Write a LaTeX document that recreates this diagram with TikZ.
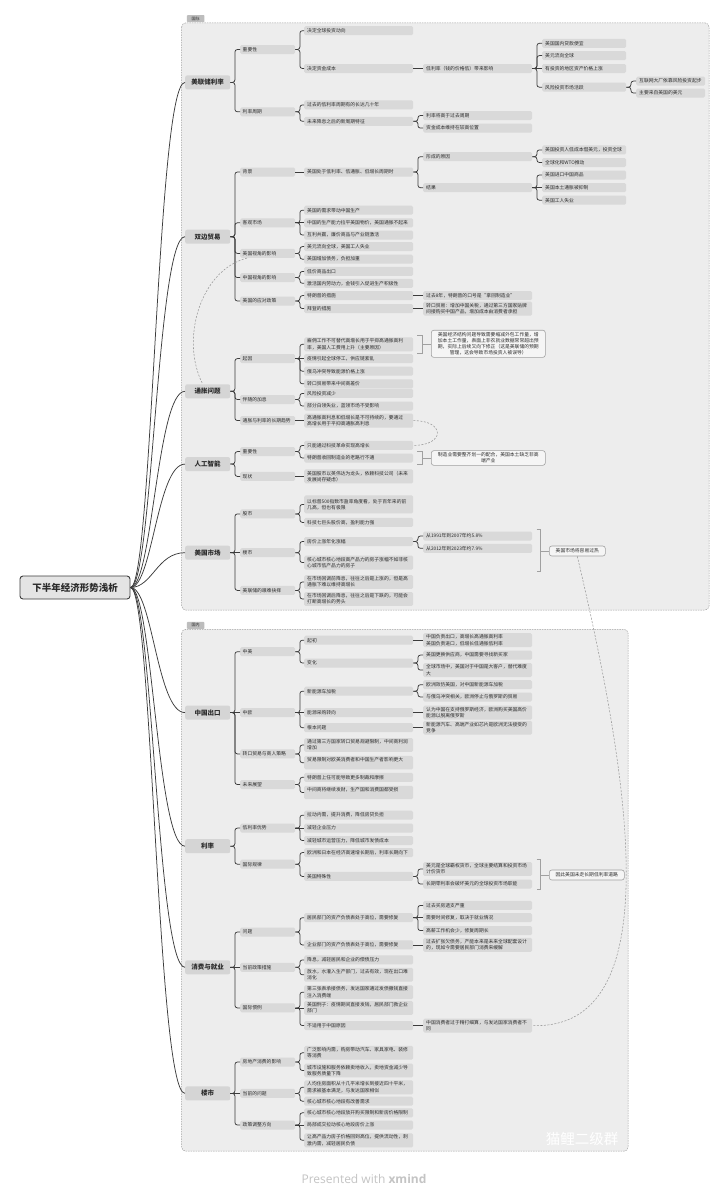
\documentclass[tikz,border=0pt]{standalone}
\usepackage{fontspec}
\setmainfont{Noto Sans CJK SC}
\newfontfamily\xmfont{Open Sans}
\usetikzlibrary{calc}
\definecolor{boxbg}{HTML}{EDEDED}
\definecolor{boxline}{HTML}{A0A0A0}
\definecolor{nfill}{HTML}{D9D9D9}
\definecolor{lfill}{HTML}{D5D5D5}
\definecolor{linec}{HTML}{3C3C3C}
\definecolor{txt}{HTML}{2B2B2B}
\definecolor{tabfill}{HTML}{BDBDBD}
\definecolor{callfill}{HTML}{F5F5F5}
\definecolor{relc}{HTML}{9A9A9A}
\definecolor{presc}{HTML}{C4C4C4}
\newcommand\mmel[2]{\draw[conn] (#1.east) -- ++(4.5,0) |- (#2.west);}
\newcommand\mmst[2]{\draw[conn] (#1.east) -- (#2.west);}
\begin{document}
\begin{tikzpicture}[x=1pt,y=-1pt,
  nbase/.style={fill=nfill, rounded corners=1.5pt, text=txt, anchor=west, align=left,
    inner ysep=1.6pt, minimum height=9pt, font=\fontsize{4.8}{6.2}\selectfont},
  lone/.style={fill=lfill, rounded corners=2pt, text=txt, anchor=west, inner sep=0pt,
    minimum width=45pt, minimum height=14pt, font=\bfseries\fontsize{6.5}{7.5}\selectfont},
  ltwo/.style={nbase, text width=50pt, inner xsep=2.5pt},
  lthr/.style={nbase, text width=103pt, inner xsep=3pt},
  lfiv/.style={nbase, text width=78pt, inner xsep=3pt},
  lsix/.style={nbase, text width=63pt, inner xsep=3pt},
  cbox/.style={fill=callfill, draw=boxline, line width=0.6pt, rounded corners=2.5pt, text=txt,
    anchor=west, align=center, inner xsep=3pt, inner ysep=2pt, font=\fontsize{4.8}{6.2}\selectfont},
  conn/.style={draw=linec, line width=0.75pt, rounded corners=2.5pt},
  brk/.style={draw=boxline, line width=0.6pt},
  relline/.style={draw=relc, dashed, dash pattern=on 2pt off 1.5pt, line width=0.55pt},
  boxst/.style={fill=boxbg, draw=boxline, dashed, dash pattern=on 1.5pt off 1pt, line width=0.5pt, rounded corners=4pt},
  tabst/.style={fill=tabfill, text=txt, inner sep=0pt, minimum width=17.5pt, minimum height=7pt,
    rounded corners=0.8pt, font=\fontsize{4}{4.5}\selectfont},
  rootst/.style={fill=nfill!70, draw=linec, line width=0.9pt, rounded corners=3pt, text=txt,
    minimum width=110pt, minimum height=23pt, font=\bfseries\fontsize{9.5}{11}\selectfont}
]
\useasboundingbox[fill=white] (0,0) rectangle (728,1200);

% group boxes
\draw[boxst] (181.7,22.9) rectangle (709,610);
\draw[boxst] (181.7,629.3) rectangle (628,1151.2);
\node[tabst] (tabA) at (195.7,18.6) {国际};
\node[tabst] (tabB) at (195.7,625.4) {国内};

% root
\node[rootst] (R) at (75,587.5) {下半年经济形势浅析};

% ---------- 美联储利率
\node[lone] (A) at (185,82.4) {美联储利率};
\node[ltwo] (A1) at (240,49.5) {重要性};
\node[lthr] (A11) at (304,30.7) {决定全球投资动向};
\node[lthr] (A12) at (304,68.5) {决定资金成本};
\node[lthr] (A121) at (423,68.5) {低利率（钱的价格低）带来影响};
\node[lfiv] (A1211) at (542,43.3) {美国国内贷款便宜};
\node[lfiv] (A1212) at (542,55.6) {美元流向全球};
\node[lfiv] (A1213) at (542,68.5) {有投资的地区资产价格上涨};
\node[lfiv] (A1214) at (542,87.2) {风险投资市场活跃};
\node[lsix] (A12141) at (636,81.1) {互联网大厂依靠风险投资起步};
\node[lsix] (A12142) at (636,93) {主要来自美国的美元};
\node[ltwo] (A2) at (240,111.8) {利率周期};
\node[lthr] (A21) at (304,104.9) {过去的低利率周期有的长达几十年};
\node[lthr] (A22) at (304,121.3) {未来降息之后的新周期特征};
\node[lthr] (A221) at (423,115.5) {利率将高于过去周期};
\node[lthr] (A222) at (423,128.1) {资金成本维持在较高位置};

% ---------- 双边贸易
\node[lone] (B) at (185,236.7) {双边贸易};
\node[ltwo] (B1) at (240,172) {背景};
\node[lthr] (B11) at (304,172) {美国处于低利率、低通胀、低增长周期时};
\node[lthr] (B111) at (423,156.7) {形成的原因};
\node[lfiv] (B1111) at (542,149.9) {美国投资人低成本借美元，投资全球};
\node[lfiv] (B1112) at (542,162.5) {全球化和WTO推动};
\node[lthr] (B112) at (423,187.7) {结果};
\node[lfiv] (B1121) at (542,175) {美国进口中国商品};
\node[lfiv] (B1122) at (542,187.7) {美国本土通胀被抑制};
\node[lfiv] (B1123) at (542,200.2) {美国工人失业};
\node[ltwo] (B2) at (240,222.8) {客观市场};
\node[lthr] (B21) at (304,210.2) {美国的需求带动中国生产};
\node[lthr] (B22) at (304,222.8) {中国的生产能力拉平美国物价，美国通胀不起来};
\node[lthr] (B23) at (304,235) {互利共赢，廉价商品与产业链激活};
\node[ltwo] (B3) at (240,253.4) {美国视角的影响};
\node[lthr] (B31) at (304,246.6) {美元流向全球，美国工人失业};
\node[lthr] (B32) at (304,259.2) {美国增加债务，负担加重};
\node[ltwo] (B4) at (240,277.6) {中国视角的影响};
\node[lthr] (B41) at (304,271.4) {低价商品出口};
\node[lthr] (B42) at (304,283.3) {激活国内劳动力，金钱引入促进生产积极性};
\node[ltwo] (B5) at (240,301) {美国的应对政策};
\node[lthr] (B51) at (304,295.6) {特朗普的措施};
\node[lthr] (B511) at (423,295.6) {过去8年，特朗普的口号是“拿回制造业”};
\node[lthr] (B52) at (304,308.6) {拜登的措施};
\node[lthr] (B521) at (423,308.6) {转口贸易：增加中国关税，通过第三方国家贴牌\\间接购买中国产品，增加成本由消费者承担};

% ---------- 通胀问题
\node[lone] (C) at (185,391.3) {通胀问题};
\node[ltwo] (C1) at (240,358.6) {起因};
\node[lthr] (C11) at (304,344.3) {雇佣工作不可替代高增长用于平抑高通胀高利\\率，美国人工费用上升（主要原因）};
\node[lthr] (C12) at (304,358.6) {疫情引起全球停工，供应链紊乱};
\node[lthr] (C13) at (304,371.2) {俄乌冲突导致能源价格上涨};
\node[lthr] (C14) at (304,383.8) {转口贸易带来中间商差价};
\node[ltwo] (C2) at (240,399.5) {伴随的加息};
\node[lthr] (C21) at (304,393.4) {风险投资减少};
\node[lthr] (C22) at (304,406) {部分白领失业，蓝领市场不受影响};
\node[ltwo] (C3) at (240,420.6) {通胀与利率的长期趋势};
\node[lthr] (C31) at (304,420.6) {高通胀高利息和低增长是不可持续的，要通过\\高增长用于平抑高通胀高利息};
\node[cbox, text width=108pt] (CC) at (431,343.8) {美国经济结构问题导致需要缩减外包工作量，增\\加本土工作量，表面上非农就业数据常常超出预\\期，实际上后续又向下修正（这是美联储的预期\\管理，这会导致市场投资人被误导）};
\coordinate (CBm) at (422,343.8);
\draw[brk] (417,335) -- (422,335) -- (422,353) -- (417,353);
\draw[brk] (CBm) -- (CC.west);

% ---------- 人工智能
\node[lone] (D) at (185,464.1) {人工智能};
\node[ltwo] (D1) at (240,451.6) {重要性};
\node[lthr] (D11) at (304,445.4) {只能通过科技革命实现高增长};
\node[lthr] (D12) at (304,458) {特朗普收回制造业的老路行不通};
\node[ltwo] (D2) at (240,476.4) {现状};
\node[lthr] (D21) at (304,476.4) {美国股市以英伟达为龙头，依赖科技公司（未来\\发展尚存疑虑）};
\node[cbox, text width=108pt] (DC) at (431,458) {制造业需要整齐划一的配合，美国本土缺乏非高\\端产业};
\coordinate (DBm) at (422,458);
\draw[brk] (417,451.6) -- (422,451.6) -- (422,464.4) -- (417,464.4);
\draw[brk] (DBm) -- (DC.west);

% ---------- 美国市场
\node[lone] (E) at (185,552.7) {美国市场};
\node[ltwo] (E1) at (240,513.9) {股市};
\node[lthr, minimum height=18pt] (E11) at (304,504.4) {以标普500指数市盈率角度看，处于百年来的前\\几高，但也有极限};
\node[lthr] (E12) at (304,522.4) {科技七巨头股价高，盈利能力强};
\node[ltwo] (E2) at (240,552.7) {楼市};
\node[lthr] (E21) at (304,541.5) {房价上涨年化涨幅};
\node[lthr] (E211) at (423,536) {从1991年到2007年约5.8\%};
\node[lthr] (E212) at (423,548.3) {从2012年到2023年约7.9\%};
\node[lthr] (E22) at (304,562.6) {核心城市核心地段高产品力的房子涨幅不如非核\\心城市低产品力的房子};
\node[ltwo] (E3) at (240,590.4) {美联储的艰难抉择};
\node[lthr] (E31) at (304,582) {在市场回调前降息，往往之后是上涨的，但是高\\通胀下难以维持高增长};
\node[lthr] (E32) at (304,599) {在市场回调后降息，往往之后是下跌的，可能会\\打断高增长的势头};
\node[cbox, minimum width=56pt, minimum height=10pt] (EC) at (549,551) {美国市场将容易过热};
\coordinate (EBm) at (540.5,551);
\draw[brk] (536.5,529) -- (540.5,529) -- (540.5,571.7) -- (536.5,571.7);
\draw[brk] (EBm) -- (EC.west);

% ---------- 中国出口
\node[lone] (F) at (185,712.6) {中国出口};
\node[ltwo] (F1) at (240,651.7) {中美};
\node[lthr] (F11) at (304,640.2) {起初};
\node[lthr] (F111) at (423,640.2) {中国负责出口，高增长高通胀高利率\\美国负责进口，低增长低通胀低利率};
\node[lthr] (F12) at (304,663) {变化};
\node[lthr] (F121) at (423,655.1) {美国更换供应商，中国需要寻找新买家};
\node[lthr] (F122) at (423,670.1) {全球市场中，美国对于中国是大客户，替代难度\\大};
\node[ltwo] (F2) at (240,712.6) {中欧};
\node[lthr] (F21) at (304,691.2) {新能源车加税};
\node[lthr] (F211) at (423,684.7) {欧洲效仿美国，对中国新能源车加税};
\node[lthr] (F212) at (423,697) {与俄乌冲突相关，欧洲停止与俄罗斯的贸易};
\node[lthr] (F22) at (304,712.6) {能源采购转向};
\node[lthr] (F221) at (423,712.6) {认为中国在支持俄罗斯经济，欧洲购买美国高价\\能源以脱离俄罗斯};
\node[lthr] (F23) at (304,727.7) {根本问题};
\node[lthr] (F231) at (423,727.7) {新能源汽车、高端产业如芯片是欧洲无法接受的\\竞争};
\node[ltwo] (F3) at (240,753.9) {转口贸易与商人策略};
\node[lthr] (F31) at (304,745) {通过第三方国家转口贸易规避限制，中间商利润\\增加};
\node[lthr] (F32) at (304,762.7) {贸易限制对欧美消费者和中国生产者影响更大\\\mbox{}};
\node[ltwo] (F4) at (240,784.5) {未来展望};
\node[lthr] (F41) at (304,777.3) {特朗普上任可能导致更多制裁和摩擦};
\node[lthr] (F42) at (304,792.5) {中间商将继续发财，生产国和消费国都受损\\\mbox{}};

% ---------- 利率
\node[lone] (G) at (185,846.2) {利率};
\node[ltwo] (G1) at (240,828.1) {低利率优势};
\node[lthr] (G11) at (304,815.2) {拉动内需，提升消费，降低房贷负担};
\node[lthr] (G12) at (304,828.1) {减轻企业压力};
\node[lthr] (G13) at (304,840.5) {减轻城市运营压力，降低城市发债成本};
\node[ltwo] (G2) at (240,864.2) {国际规律};
\node[lthr] (G21) at (304,852.6) {欧洲和日本在经济高速增长期后，利率长期向下};
\node[lthr] (G22) at (304,876.4) {美国特殊性};
\node[lthr] (G221) at (423,869) {美元是全球霸权货币，全球主要结算和投资市场\\计价货币};
\node[lthr] (G222) at (423,884) {长期零利率会破坏美元的全球投资市场职能};
\node[cbox, minimum width=75pt, minimum height=10pt] (GC) at (549,875) {因此美国未走长期低利率道路};
\coordinate (GBm) at (540.5,875);
\draw[brk] (536.5,859.4) -- (540.5,859.4) -- (540.5,889.4) -- (536.5,889.4);
\draw[brk] (GBm) -- (GC.west);

% ---------- 消费与就业
\node[lone] (H) at (185,967.3) {消费与就业};
\node[ltwo] (H1) at (240,932) {问题};
\node[lthr] (H11) at (304,917.7) {居民部门的资产负债表处于高位，需要修复};
\node[lthr] (H111) at (423,905.4) {过去买房透支严重};
\node[lthr] (H112) at (423,917.7) {需要时间修复，取决于就业情况};
\node[lthr] (H113) at (423,930.6) {高薪工作机会少，修复周期长};
\node[lthr] (H12) at (304,944.9) {企业部门的资产负债表处于高位，需要修复};
\node[lthr] (H121) at (423,944.9) {过去扩张欠债务，产能本来是未来全球配套设计\\的，现如今需要居民部门消费来缓解};
\node[ltwo] (H2) at (240,967.3) {当前政策措施};
\node[lthr] (H21) at (304,959.9) {降息，减轻居民和企业的偿债压力};
\node[lthr] (H22) at (304,974.8) {放水，水灌入生产部门，过去有效，现在出口难\\消化};
\node[ltwo] (H3) at (240,1007.9) {国际惯例};
\node[lthr] (H31) at (304,992.2) {第三张表承接债务，发达国家通过发债撒钱直接\\注入消费端};
\node[lthr] (H32) at (304,1007.9) {美国例子：疫情期间直接发钱，居民部门救企业\\部门};
\node[lthr] (H33) at (304,1025.6) {不适用于中国原因};
\node[lthr] (H331) at (423,1025.6) {中国消费者过于精打细算，与发达国家消费者不\\同};

% ---------- 楼市
\node[lone] (I) at (185,1093.4) {楼市};
\node[ltwo] (I1) at (240,1062) {房地产消费的影响};
\node[lthr] (I11) at (304,1052.8) {广泛影响内需，购房带动汽车、家具家电、装修\\等消费};
\node[lthr] (I12) at (304,1070.5) {城市设施和服务依赖卖地收入，卖地资金减少导\\致服务质量下降};
\node[ltwo] (I2) at (240,1093.4) {当前的问题};
\node[lthr] (I21) at (304,1087.3) {人均住房面积从十几平米增长到接近四十平米，\\需求被基本满足，与发达国家相似};
\node[lthr] (I22) at (304,1101.2) {核心城市核心地段有改善需求};
\node[ltwo] (I3) at (240,1125) {政策调整方向};
\node[lthr] (I31) at (304,1112.8) {核心城市核心地段放开购买限制和新房价格限制};
\node[lthr] (I32) at (304,1125) {局部成交拉动核心地段房价上涨};
\node[lthr] (I33) at (304,1140.3) {让高产品力房子价格回到高位，提供流动性，刺\\激内需，减轻居民负债};

% ---------- connectors: root
\foreach \n in {A,B,C,D,E,F,G,H,I}
  \draw[conn] (R.east) .. controls +(22,0) and +(-28,0) .. (\n.west);

% 美联储利率
\mmel{A}{A1}\mmel{A}{A2}
\mmel{A1}{A11}\mmel{A1}{A12}
\mmst{A12}{A121}
\mmel{A121}{A1211}\mmel{A121}{A1212}\mmst{A121}{A1213}\mmel{A121}{A1214}
\mmel{A1214}{A12141}\mmel{A1214}{A12142}
\mmel{A2}{A21}\mmel{A2}{A22}
\mmel{A22}{A221}\mmel{A22}{A222}
% 双边贸易
\mmel{B}{B1}\mmel{B}{B2}\mmel{B}{B3}\mmel{B}{B4}\mmel{B}{B5}
\mmst{B1}{B11}
\mmel{B11}{B111}\mmel{B11}{B112}
\mmel{B111}{B1111}\mmel{B111}{B1112}
\mmel{B112}{B1121}\mmst{B112}{B1122}\mmel{B112}{B1123}
\mmel{B2}{B21}\mmst{B2}{B22}\mmel{B2}{B23}
\mmel{B3}{B31}\mmel{B3}{B32}
\mmel{B4}{B41}\mmel{B4}{B42}
\mmel{B5}{B51}\mmel{B5}{B52}
\mmst{B51}{B511}\mmst{B52}{B521}
% 通胀问题
\mmel{C}{C1}\mmel{C}{C2}\mmel{C}{C3}
\mmel{C1}{C11}\mmst{C1}{C12}\mmel{C1}{C13}\mmel{C1}{C14}
\mmel{C2}{C21}\mmel{C2}{C22}
\mmst{C3}{C31}
% 人工智能
\mmel{D}{D1}\mmel{D}{D2}
\mmel{D1}{D11}\mmel{D1}{D12}
\mmst{D2}{D21}
% 美国市场
\mmel{E}{E1}\mmst{E}{E2}\mmel{E}{E3}
\mmel{E1}{E11}\mmel{E1}{E12}
\mmel{E2}{E21}\mmel{E2}{E22}
\mmel{E21}{E211}\mmel{E21}{E212}
\mmel{E3}{E31}\mmel{E3}{E32}
% 中国出口
\mmel{F}{F1}\mmst{F}{F2}\mmel{F}{F3}\mmel{F}{F4}
\mmel{F1}{F11}\mmel{F1}{F12}
\mmst{F11}{F111}
\mmel{F12}{F121}\mmel{F12}{F122}
\mmel{F2}{F21}\mmst{F2}{F22}\mmel{F2}{F23}
\mmel{F21}{F211}\mmel{F21}{F212}
\mmst{F22}{F221}\mmst{F23}{F231}
\mmel{F3}{F31}\mmel{F3}{F32}
\mmel{F4}{F41}\mmel{F4}{F42}
% 利率
\mmel{G}{G1}\mmel{G}{G2}
\mmel{G1}{G11}\mmst{G1}{G12}\mmel{G1}{G13}
\mmel{G2}{G21}\mmel{G2}{G22}
\mmel{G22}{G221}\mmel{G22}{G222}
% 消费与就业
\mmel{H}{H1}\mmst{H}{H2}\mmel{H}{H3}
\mmel{H1}{H11}\mmel{H1}{H12}
\mmel{H11}{H111}\mmst{H11}{H112}\mmel{H11}{H113}
\mmst{H12}{H121}
\mmel{H2}{H21}\mmel{H2}{H22}
\mmel{H3}{H31}\mmst{H3}{H32}\mmel{H3}{H33}
\mmst{H33}{H331}
% 楼市
\mmel{I}{I1}\mmst{I}{I2}\mmel{I}{I3}
\mmel{I1}{I11}\mmel{I1}{I12}
\mmel{I2}{I21}\mmel{I2}{I22}
\mmel{I3}{I31}\mmst{I3}{I32}\mmel{I3}{I33}

% relationship lines
\draw[relline] ($(B3.south west)+(7,0)$) .. controls (200,270) and (180,340) .. ($(C.north)+(-5,0)$);
\draw[relline] (C31.east) .. controls +(32,0) and +(32,0) .. (D11.east);
\draw[relline] (EC.south) .. controls (630,780) and (670,1030) .. (H331.east);

% watermark and footer
\node[text=white, font=\fontsize{14.5}{16}\selectfont] (WM) at (582,1139) {猫鲤二级群};
\node[text=presc, font=\xmfont\fontsize{12}{14}\selectfont] (PW) at (364,1179) {Presented with \textbf{xmind}};
\end{tikzpicture}
\end{document}
